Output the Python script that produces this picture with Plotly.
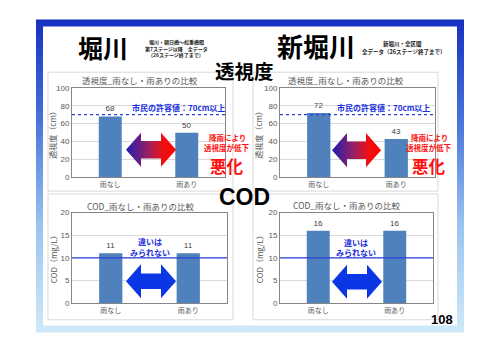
import plotly.graph_objects as go

# ---------------- data ----------------
categories = ["雨なし", "雨あり"]
horikawa_clarity = [68, 50]
shinhorikawa_clarity = [72, 43]
horikawa_cod = [11, 11]
shinhorikawa_cod = [16, 16]
clarity_standard = 70
cod_reference = 10
clarity_ticks = [0, 20, 40, 60, 80, 100]
cod_ticks = [0, 5, 10, 15, 20]

W, H = 500, 353
JP = "Noto Sans CJK JP"
BAR = "#4F81BD"
GRID = "#d9d9d9"
BORDER = "#868686"
TICK = "#595959"


def px(x):
    return x / W


def py(y):
    return 1 - y / H


fig = go.Figure()

# panels: (axis id, data, x-domain px, y-domain px, yrange, ticks)
panels = [
    ("", horikawa_clarity, (72, 225), (86, 178), [0, 100], clarity_ticks),
    ("2", shinhorikawa_clarity, (280, 435), (86, 178), [0, 100], clarity_ticks),
    ("3", horikawa_cod, (72, 227), (214, 307), [0, 20], cod_ticks),
    ("4", shinhorikawa_cod, (280, 433), (214, 307), [0, 20], cod_ticks),
]

for aid, vals, (xl, xr), (yt, yb), yr, ticks in panels:
    fig.add_trace(go.Bar(
        x=categories, y=vals, text=[str(v) for v in vals], textposition="outside",
        textfont=dict(size=8, color="#404040", family="Liberation Sans"),
        marker=dict(color=BAR, line=dict(width=0)), width=0.3,
        xaxis="x" + aid, yaxis="y" + aid, hoverinfo="skip", cliponaxis=False,
    ))
    fig.layout["xaxis" + aid] = dict(
        domain=[px(xl), px(xr)], anchor="y" + aid, showline=True, mirror=True,
        linecolor=BORDER, linewidth=1, ticks="", showgrid=False,
        tickfont=dict(size=7, color=TICK, family=JP), fixedrange=True,
    )
    fig.layout["yaxis" + aid] = dict(
        domain=[py(yb), py(yt)], anchor="x" + aid, range=yr, tickvals=ticks,
        showline=True, mirror=True, linecolor=BORDER, linewidth=1,
        gridcolor=GRID, gridwidth=1, zeroline=False, ticks="",
        tickfont=dict(size=8, color=TICK, family="Liberation Sans"), fixedrange=True,
    )

# reference lines
for aid, val, dash in [("", clarity_standard, "dot"), ("2", clarity_standard, "dot"),
                       ("3", cod_reference, "solid"), ("4", cod_reference, "solid")]:
    fig.add_shape(type="line", xref=("x" + aid) + " domain", yref="y" + aid,
                  x0=0, x1=1, y0=val, y1=val,
                  line=dict(color="#2b3fd6", width=1.2, dash=dash))

# overlay pixel axis for decorations
fig.layout.xaxis5 = dict(domain=[0, 1], range=[0, W], visible=False, fixedrange=True, anchor="y5")
fig.layout.yaxis5 = dict(domain=[0, 1], range=[H, 0], visible=False, fixedrange=True, anchor="x5")

# frame with vertical gradient
ox0, oy0, ox1, oy1 = 36, 16, 464, 337
ix0, iy0, ix1, iy1 = 43, 23, 457, 330
fx, fy = [], []
for (a, b, c, d) in [(ox0, oy0, ox1, iy0), (ox0, iy1, ox1, oy1),
                     (ox0, iy0, ix0, iy1), (ix1, iy0, ox1, iy1)]:
    fx += [a, c, c, a, a, None]
    fy += [b, b, d, d, b, None]
fig.add_trace(go.Scatter(
    x=fx, y=fy, mode="lines", fill="toself", line=dict(width=0),
    fillgradient=dict(type="vertical", start=oy0, stop=oy1,
                      colorscale=[[0, "#1530c0"], [0.3, "#4670d8"],
                                  [0.65, "#9cc6f0"], [1, "#d3ecfa"]]),
    xaxis="x5", yaxis="y5", hoverinfo="skip", showlegend=False,
))


def arrow(x0, x1, c, H2, s, h):
    xs = [x0, x0 + h, x0 + h, x1 - h, x1 - h, x1, x1 - h, x1 - h, x0 + h, x0 + h, x0]
    ys = [c, c - H2, c - s, c - s, c - H2, c, c + H2, c + s, c + s, c + H2, c]
    return xs, ys


grad = [[0, "#1e1eb0"], [0.45, "#9a1f63"], [0.75, "#f01010"], [1, "#ff0000"]]
for (x0, x1, c) in [(126, 176, 149.5), (332, 381, 150)]:
    xs, ys = arrow(x0, x1, c, 17.5, 9, 15)
    fig.add_trace(go.Scatter(
        x=xs, y=ys, mode="lines", fill="toself", line=dict(width=0),
        fillgradient=dict(type="horizontal", start=x0, stop=x1, colorscale=grad),
        xaxis="x5", yaxis="y5", hoverinfo="skip", showlegend=False,
    ))
for (x0, x1, c) in [(126, 176, 284.5), (332, 382, 285)]:
    xs, ys = arrow(x0, x1, c, 17.5, 8, 15)
    fig.add_trace(go.Scatter(
        x=xs, y=ys, mode="lines", fill="toself", line=dict(width=0),
        fillcolor="#0a36e6", xaxis="x5", yaxis="y5", hoverinfo="skip", showlegend=False,
    ))

# panel boxes
for (x0, y0, x1, y1) in [(48, 70, 233, 192), (253, 70, 438, 192),
                         (48, 195, 233, 324), (253, 195, 438, 324)]:
    fig.add_shape(type="rect", xref="paper", yref="paper", layer="below",
                  x0=px(x0), x1=px(x1), y0=py(y1), y1=py(y0),
                  line=dict(color="#d9d9d9", width=1), fillcolor="white")


def txt(x, y, s, size, color="black", family=JP, angle=0, xanchor="center"):
    fig.add_annotation(x=px(x), y=py(y), xref="paper", yref="paper", text=s,
                       showarrow=False, xanchor=xanchor, yanchor="middle",
                       textangle=angle, borderpad=0,
                       font=dict(size=size, color=color, family=family))


# headings
txt(103, 44, "<b>堀川</b>", 25)
txt(176, 39.5, "<b>堀川・朝日橋〜松重橋間</b>", 5, "#222")
txt(176, 46, "<b>第7ステージ以降　全データ</b>", 5, "#222")
txt(176, 52.5, "<b>（26ステージ終了まで）</b>", 5, "#222")
txt(316, 43, "<b>新堀川</b>", 26)
txt(402, 41, "<b>新堀川・全区間</b>", 5.5, "#222")
txt(403, 49, "<b>全データ（26ステージ終了まで）</b>", 5.5, "#222")
txt(244, 68, "<b>透視度</b>", 19.5)
txt(244, 198, "<b>COD</b>", 23, family="Liberation Sans")
txt(442, 324, "<b>108</b>", 13, family="Liberation Sans")

# chart titles
txt(140, 78, "透視度_雨なし・雨ありの比較", 8.5, TICK)
txt(346, 78, "透視度_雨なし・雨ありの比較", 8.5, TICK)
txt(141, 207, "COD_雨なし・雨ありの比較", 8.5, TICK)
txt(347, 206, "COD_雨なし・雨ありの比較", 8.5, TICK)

# y-axis titles
txt(53, 132, "透視度（cm）", 8, TICK, angle=-90)
txt(259, 132, "透視度（cm）", 8, TICK, angle=-90)
txt(53, 260, "COD（mg/L）", 8, TICK, angle=-90)
txt(259, 260, "COD（mg/L）", 8, TICK, angle=-90)

# callouts
BLUE = "#1a2ee0"
RED = "#ff1010"
txt(178, 106, "<b>市民の許容値：70cm以上</b>", 8, BLUE)
txt(383, 106, "<b>市民の許容値：70cm以上</b>", 8, BLUE)
for cx in (227, 429):
    txt(cx, 136.5, "<b>降雨により</b>", 7.5, RED)
    txt(cx, 147, "<b>透視度が低下</b>", 7.5, RED)
    txt(cx, 166, "<b>悪化</b>", 16.5, RED)
txt(150, 244, "<b>違いは</b>", 8, BLUE)
txt(150, 255, "<b>みられない</b>", 8, BLUE)
txt(356, 245, "<b>違いは</b>", 8, BLUE)
txt(356, 255, "<b>みられない</b>", 8, BLUE)

fig.update_layout(
    width=W, height=H, margin=dict(l=0, r=0, t=0, b=0),
    paper_bgcolor="white", plot_bgcolor="rgba(0,0,0,0)",
    showlegend=False, font=dict(family=JP),
)

fig.write_html("out.html")
